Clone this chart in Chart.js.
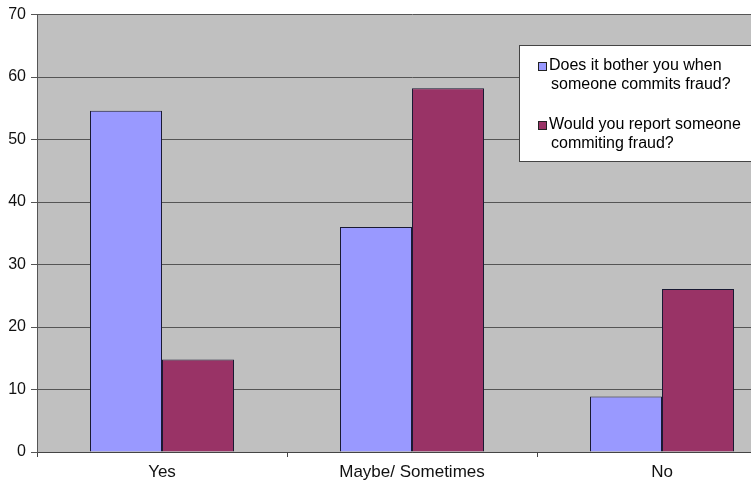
<!DOCTYPE html>
<html>
<head>
<meta charset="utf-8">
<script src="https://cdn.jsdelivr.net/npm/chart.js@4"></script>
<style>
  html, body { margin: 0; padding: 0; background: #fff; overflow: hidden; }
  #wrap { width: 751px; height: 483px; overflow: hidden; }
</style>
</head>
<body>
<div id="wrap"><canvas id="fraud-chart" width="790" height="483"></canvas></div>
<script>
var categories = ['Yes', 'Maybe/ Sometimes', 'No'];
var botherValues = [54.6, 36.0, 8.9];
var reportValues = [14.8, 58.2, 26.1];
var seriesNames = [
    ['Does it bother you when', 'someone commits fraud?'],
    ['Would you report someone', 'commiting fraud?']
];
var yTicks = [0, 10, 20, 30, 40, 50, 60, 70];

var FONT = 'Liberation Sans, Arial, sans-serif';

// gray plot background, like the old Excel charts
var plotBackground = {
    id: 'plotBackground',
    beforeDraw: function (chart) {
        var a = chart.chartArea;
        var ctx = chart.ctx;
        ctx.save();
        ctx.fillStyle = '#c0c0c0';
        ctx.fillRect(a.left, a.top, a.right - a.left, a.bottom - a.top);
        ctx.restore();
    }
};

// legend box sitting inside the plot area, top right
var boxLegend = {
    id: 'boxLegend',
    afterDraw: function (chart) {
        var ctx = chart.ctx;
        var x = 519, y = 45, w = 300, h = 116;
        ctx.save();
        ctx.fillStyle = '#fff';
        ctx.fillRect(x, y, w, h);
        ctx.strokeStyle = '#444';
        ctx.lineWidth = 1;
        ctx.strokeRect(x + 0.5, y + 0.5, w, h);
        ctx.font = '16px ' + FONT;
        ctx.textBaseline = 'middle';
        var rows = [66, 125];
        chart.data.datasets.forEach(function (ds, i) {
            var ry = rows[i];
            ctx.fillStyle = ds.backgroundColor;
            ctx.fillRect(538, ry - 4, 9, 9);
            ctx.strokeStyle = '#222';
            ctx.strokeRect(538.5, ry - 3.5, 8, 8);
            ctx.fillStyle = '#000';
            ds.label.forEach(function (line, j) {
                ctx.fillText(line, j === 0 ? 549 : 551, ry + j * 19);
            });
        });
        ctx.restore();
    }
};

var ctx = document.getElementById('fraud-chart').getContext('2d');
var myChart = new Chart(ctx, {
    type: 'bar',
    data: {
        labels: categories,
        datasets: [{
            label: seriesNames[0],
            data: botherValues,
            backgroundColor: '#9999ff',
            borderColor: '#1a1a33',
            borderWidth: 1
        }, {
            label: seriesNames[1],
            data: reportValues,
            backgroundColor: '#993366',
            borderColor: '#1a1a33',
            borderWidth: 1
        }]
    },
    options: {
        responsive: false,
        animation: false,
        layout: { padding: { top: 14, right: 3, left: 0, bottom: 0 } },
        datasets: {
            bar: { categoryPercentage: 0.576, barPercentage: 1.0 }
        },
        plugins: {
            legend: { display: false },
            tooltip: { enabled: false }
        },
        scales: {
            x: {
                grid: {
                    offset: true,
                    drawOnChartArea: false,
                    tickLength: 5,
                    color: '#444'
                },
                border: { color: '#444' },
                ticks: {
                    color: '#111',
                    padding: 5,
                    font: { family: FONT, size: 17 }
                },
                afterFit: function (scale) { scale.height = 31; }
            },
            y: {
                min: 0,
                max: 70,
                afterBuildTicks: function (scale) {
                    scale.ticks = yTicks.map(function (v) { return { value: v }; });
                },
                grid: { color: '#555', tickLength: 6 },
                border: { color: '#555' },
                ticks: {
                    color: '#111',
                    padding: 5,
                    font: { family: FONT, size: 16 }
                },
                afterFit: function (scale) { scale.width = 37; }
            }
        }
    },
    plugins: [plotBackground, boxLegend]
});
</script>
</body>
</html>
